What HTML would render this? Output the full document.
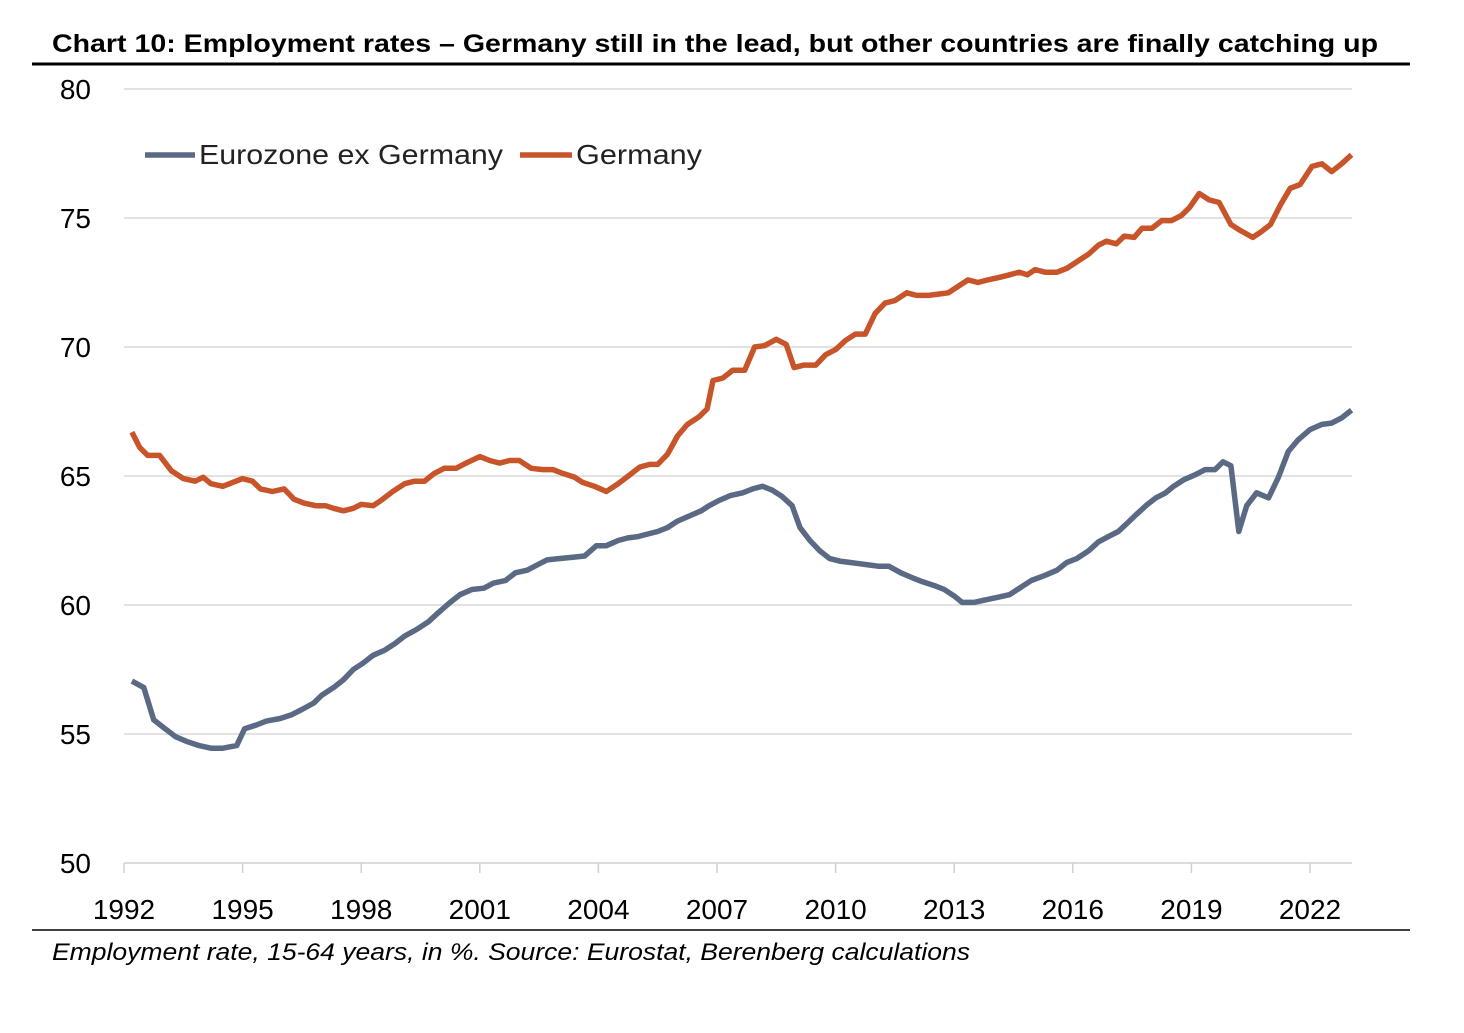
<!DOCTYPE html>
<html><head><meta charset="utf-8"><style>
body{margin:0;background:#fff;width:1464px;height:1028px;overflow:hidden;font-family:"Liberation Sans",sans-serif}
</style></head><body>
<svg id="chart" width="1464" height="1028" xmlns="http://www.w3.org/2000/svg">
<text x="52" y="52" font-size="25" font-weight="bold" fill="#000" textLength="1326" lengthAdjust="spacingAndGlyphs">Chart 10: Employment rates – Germany still in the lead, but other countries are finally catching up</text>
<line x1="32" y1="64" x2="1410" y2="64" stroke="#000" stroke-width="3"/>
<line x1="32" y1="930" x2="1410" y2="930" stroke="#000" stroke-width="1.5"/>
<text x="52" y="960" font-size="24" font-style="italic" fill="#000" textLength="918" lengthAdjust="spacingAndGlyphs">Employment rate, 15-64 years, in %. Source: Eurostat, Berenberg calculations</text>
<g id="grid"></g><g id="axes"></g><g id="series"></g>
<g>
<line x1="145" y1="155" x2="195" y2="155" stroke="#5a6a85" stroke-width="5.5"/>
<text x="199" y="164" font-size="28" fill="#222" textLength="304" lengthAdjust="spacingAndGlyphs">Eurozone ex Germany</text>
<line x1="520" y1="155" x2="572" y2="155" stroke="#c8552a" stroke-width="5.5"/>
<text x="576" y="164" font-size="28" fill="#222" textLength="126" lengthAdjust="spacingAndGlyphs">Germany</text>
</g>
</svg>
<script>
const yTicks=[50,55,60,65,70,75,80];
const xTicks=[1992,1995,1998,2001,2004,2007,2010,2013,2016,2019,2022];
const gerDates=[1992.2,1992.4,1992.6,1992.9,1993.2,1993.5,1993.8,1994.0,1994.2,1994.5,1994.75,1995.0,1995.25,1995.45,1995.75,1996.05,1996.3,1996.55,1996.85,1997.1,1997.3,1997.55,1997.8,1998.0,1998.3,1998.5,1998.8,1999.1,1999.35,1999.6,1999.85,2000.1,2000.4,2000.65,2001.0,2001.25,2001.5,2001.75,2002.0,2002.3,2002.6,2002.85,2003.1,2003.4,2003.6,2003.9,2004.2,2004.5,2004.8,2005.05,2005.3,2005.5,2005.75,2006.0,2006.25,2006.55,2006.75,2006.9,2007.15,2007.4,2007.7,2007.95,2008.2,2008.5,2008.75,2008.95,2009.2,2009.5,2009.75,2010.0,2010.25,2010.5,2010.75,2011.0,2011.25,2011.5,2011.8,2012.05,2012.35,2012.6,2012.85,2013.15,2013.35,2013.6,2013.85,2014.15,2014.4,2014.65,2014.85,2015.05,2015.3,2015.6,2015.85,2016.15,2016.4,2016.65,2016.85,2017.1,2017.3,2017.55,2017.75,2018.0,2018.25,2018.5,2018.75,2018.95,2019.2,2019.45,2019.7,2020.0,2020.2,2020.55,2020.75,2021.0,2021.25,2021.5,2021.75,2022.05,2022.3,2022.55,2022.8,2023.05];
const gerValues=[66.7,66.1,65.8,65.8,65.2,64.9,64.8,64.95,64.7,64.6,64.75,64.9,64.8,64.5,64.4,64.5,64.1,63.95,63.85,63.85,63.75,63.65,63.75,63.9,63.85,64.05,64.4,64.7,64.8,64.8,65.1,65.3,65.3,65.5,65.75,65.6,65.5,65.6,65.6,65.3,65.25,65.25,65.1,64.95,64.75,64.6,64.4,64.7,65.05,65.35,65.45,65.45,65.85,66.55,67.0,67.3,67.6,68.7,68.8,69.1,69.1,70.0,70.05,70.3,70.1,69.2,69.3,69.3,69.7,69.9,70.25,70.5,70.5,71.3,71.7,71.8,72.1,72.0,72.0,72.05,72.1,72.4,72.6,72.5,72.6,72.7,72.8,72.9,72.8,73.0,72.9,72.9,73.05,73.35,73.6,73.95,74.1,74.0,74.3,74.25,74.6,74.6,74.9,74.9,75.1,75.4,75.95,75.7,75.6,74.75,74.55,74.25,74.45,74.75,75.5,76.15,76.3,77.0,77.1,76.8,77.1,77.45];
const ezDates=[1992.2,1992.5,1992.75,1993.0,1993.3,1993.6,1993.9,1994.2,1994.5,1994.85,1995.05,1995.35,1995.6,1995.95,1996.25,1996.5,1996.8,1997.0,1997.3,1997.55,1997.8,1998.05,1998.3,1998.6,1998.85,1999.1,1999.4,1999.7,1999.95,2000.25,2000.5,2000.8,2001.1,2001.35,2001.65,2001.9,2002.2,2002.45,2002.7,2003.0,2003.35,2003.65,2003.95,2004.2,2004.5,2004.75,2005.0,2005.25,2005.5,2005.75,2006.0,2006.3,2006.6,2006.8,2007.05,2007.35,2007.65,2007.9,2008.15,2008.4,2008.65,2008.9,2009.1,2009.35,2009.6,2009.85,2010.1,2010.35,2010.6,2010.85,2011.1,2011.35,2011.65,2011.95,2012.2,2012.5,2012.75,2013.0,2013.2,2013.5,2013.8,2014.1,2014.4,2014.7,2014.95,2015.3,2015.6,2015.85,2016.1,2016.4,2016.65,2016.9,2017.15,2017.4,2017.6,2017.85,2018.1,2018.35,2018.55,2018.8,2019.1,2019.35,2019.6,2019.8,2020.0,2020.2,2020.4,2020.65,2020.95,2021.2,2021.45,2021.7,2022.0,2022.3,2022.55,2022.8,2023.05];
const ezValues=[57.05,56.8,55.55,55.25,54.9,54.7,54.55,54.45,54.45,54.55,55.2,55.35,55.5,55.6,55.75,55.95,56.2,56.5,56.8,57.1,57.5,57.75,58.05,58.25,58.5,58.8,59.05,59.35,59.7,60.1,60.4,60.6,60.65,60.85,60.95,61.25,61.35,61.55,61.75,61.8,61.85,61.9,62.3,62.3,62.5,62.6,62.65,62.75,62.85,63.0,63.25,63.45,63.65,63.85,64.05,64.25,64.35,64.5,64.6,64.45,64.2,63.85,63.0,62.5,62.1,61.8,61.7,61.65,61.6,61.55,61.5,61.5,61.25,61.05,60.9,60.75,60.6,60.35,60.1,60.1,60.2,60.3,60.4,60.7,60.95,61.15,61.35,61.65,61.8,62.1,62.45,62.65,62.85,63.2,63.5,63.85,64.15,64.35,64.6,64.85,65.05,65.25,65.25,65.55,65.4,62.85,63.85,64.35,64.15,64.95,65.95,66.4,66.8,67.0,67.05,67.25,67.55];

const NS='http://www.w3.org/2000/svg';
const X0=124,X1=1352;
function xs(t){return 124+(t-1992)*(1310-124)/30;}
function ys(v){return 863-(v-50)*(863-89)/30;}
function mk(tag,attrs,parent){const e=document.createElementNS(NS,tag);for(const k in attrs)e.setAttribute(k,attrs[k]);parent.appendChild(e);return e;}
const grid=document.getElementById('grid'),axes=document.getElementById('axes'),ser=document.getElementById('series');
yTicks.forEach(v=>{
  if(v>50){const g=mk('line',{x1:X0,x2:X1,y1:ys(v),y2:ys(v),stroke:'#d9d9d9','stroke-width':1.5},grid);
  
  }
  const t=mk('text',{x:91,y:ys(v)+10,'font-size':28,'text-anchor':'end',fill:'#000'},axes);t.textContent=v;
  
  
});
const ax=mk('line',{x1:X0,x2:X1,y1:ys(50),y2:ys(50),stroke:'#d0d0d0','stroke-width':1.5},axes);


xTicks.forEach(yr=>{
  const tk=mk('line',{x1:xs(yr),x2:xs(yr),y1:ys(50),y2:ys(50)+10,stroke:'#d0d0d0','stroke-width':1.5},axes);
  
  
  const t=mk('text',{x:xs(yr),y:919,'font-size':28,'text-anchor':'middle',fill:'#000'},axes);t.textContent=yr;
  
  
});
function line(d,v,c,name){const p=mk('polyline',{points:d.map((t,i)=>xs(t).toFixed(1)+','+ys(v[i]).toFixed(1)).join(' '),fill:'none',stroke:c,'stroke-width':5.5,'stroke-linejoin':'round'},ser);

}
line(ezDates,ezValues,'#5a6a85','eurozone-ex-germany-line');
line(gerDates,gerValues,'#c8552a','germany-line');
</script>
</body></html>
